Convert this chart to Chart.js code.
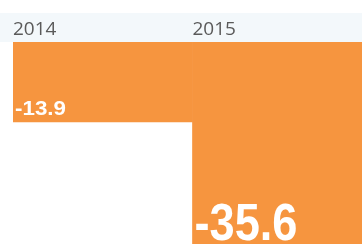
<!DOCTYPE html>
<html><head><meta charset="utf-8">
<script src="https://cdn.jsdelivr.net/npm/chart.js@4.4.1/dist/chart.umd.min.js"></script>
<style>html,body{margin:0;padding:0;background:#fff;overflow:hidden;width:362px;height:244px}</style>
</head><body>
<canvas id="c" width="372" height="244"></canvas>
<script>
const categories = ["2014", "2015"];
const values = [-13.9, -35.6];
const valueLabels = ["-13.9", "-35.6"];

const orange = "#F6953F";

const decor = {
  id: "decor",
  beforeDraw(chart) {
    const ctx = chart.ctx, a = chart.chartArea;
    ctx.save();
    ctx.fillStyle = "#fff";
    ctx.fillRect(0, 0, chart.width, chart.height);
    ctx.fillStyle = "#f3f8fb";
    ctx.fillRect(0, 13, chart.width, a.top - 13);
    ctx.restore();
  },
  afterDatasetsDraw(chart) {
    const ctx = chart.ctx;
    const meta = chart.getDatasetMeta(0);
    meta.data.forEach((bar, i) => {
      const left = bar.x - bar.width / 2;
      ctx.save();
      ctx.fillStyle = "#5a5a5a";
      ctx.font = "19px 'Open Sans', sans-serif";
      ctx.textAlign = "left";
      ctx.textBaseline = "alphabetic";
      ctx.fillText(categories[i], left, 35);
      ctx.fillStyle = "#fff";
      let targetW, font;
      if (i === 0) { font = "bold 20px 'Liberation Sans', Arial, sans-serif"; targetW = 51; }
      else { font = "bold 52px 'Liberation Sans', Arial, sans-serif"; targetW = 103; }
      ctx.font = font;
      const w = ctx.measureText(valueLabels[i]).width;
      const sx = targetW / w;
      ctx.translate(left + 2, bar.y - 7);
      ctx.scale(sx, 1);
      ctx.fillText(valueLabels[i], 0, 0);
      ctx.restore();
    });
  }
};

new Chart(document.getElementById("c"), {
  type: "bar",
  data: {
    labels: categories,
    datasets: [{
      data: values,
      backgroundColor: orange,
      borderWidth: 0,
      categoryPercentage: 1,
      barPercentage: 1
    }]
  },
  options: {
    responsive: false,
    animation: false,
    layout: { padding: { left: 13, top: 42, right: 0, bottom: 0 } },
    plugins: { legend: { display: false }, tooltip: { enabled: false } },
    scales: {
      x: { display: false },
      y: { display: false, min: -35.1, max: 0 }
    }
  },
  plugins: [decor]
});
</script>
</body></html>
